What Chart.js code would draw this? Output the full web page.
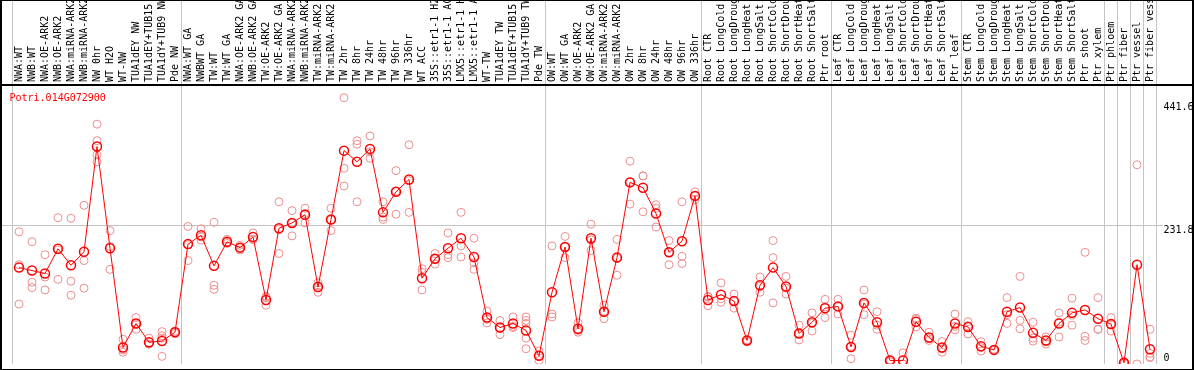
<!DOCTYPE html>
<html>
<head>
<meta charset="utf-8">
<script src="https://cdn.jsdelivr.net/npm/chart.js@4.4.1/dist/chart.umd.min.js"></script>
<style>
  html, body { margin: 0; padding: 0; background: #fff; }
  #wrap { width: 1194px; height: 370px; }
</style>
</head>
<body>
<div id="wrap"><canvas id="chart" width="1194" height="370"></canvas></div>
<script>
// Gene shown in the plot
const geneName = 'Potri.014G072900';

// Sample names (one column each)
const samples = [
  'NWA:WT', 'NWB:WT', 'NWA:OE-ARK2', 'NWB:OE-ARK2', 'NWA:miRNA-ARK2', 'NWB:miRNA-ARK2',
  'NW 0hr', 'WT H2O', 'WT-NW', 'TUA1dEY NW', 'TUA1dEY+TUB15', 'TUA1dY+TUB9 NW', 'Pde NW',
  'NWA:WT GA', 'NWBWT GA', 'TW:WT', 'TW:WT GA', 'NWA:OE-ARK2 GA', 'NWB:OE-ARK2 GA',
  'TW:OE-ARK2', 'TW:OE-ARK2 GA', 'NWA:miRNA-ARK2', 'NWB:miRNA-ARK2', 'TW:miRNA-ARK2',
  'TW:miRNA-ARK2', 'TW 2hr', 'TW 8hr', 'TW 24hr', 'TW 48hr', 'TW 96hr', 'TW 336hr',
  'WT ACC', '35S::etr1-1 H2O', '35S::etr1-1 ACC', 'LMX5::etr1-1 H2O', 'LMX5::etr1-1 ACC',
  'WT-TW', 'TUA1dEY TW', 'TUA1dEY+TUB15', 'TUA1dY+TUB9 TW', 'Pde TW',
  'OW:WT', 'OW:WT GA', 'OW:OE-ARK2', 'OW:OE-ARK2 GA', 'OW:miRNA-ARK2', 'OW:miRNA-ARK2',
  'OW 2hr', 'OW 8hr', 'OW 24hr', 'OW 48hr', 'OW 96hr', 'OW 336hr',
  'Root CTR', 'Root LongCold', 'Root LongDrought', 'Root LongHeat', 'Root LongSalt',
  'Root ShortCold', 'Root ShortDrought', 'Root ShortHeat', 'Root ShortSalt', 'Ptr root',
  'Leaf CTR', 'Leaf LongCold', 'Leaf LongDrought', 'Leaf LongHeat', 'Leaf LongSalt',
  'Leaf ShortCold', 'Leaf ShortDrought', 'Leaf ShortHeat', 'Leaf ShortSalt', 'Ptr leaf',
  'Stem CTR', 'Stem LongCold', 'Stem LongDrought', 'Stem LongHeat', 'Stem LongSalt',
  'Stem ShortCold', 'Stem ShortDrought', 'Stem ShortHeat', 'Stem ShortSalt', 'Ptr shoot',
  'Ptr xylem', 'Ptr phloem', 'Ptr fiber', 'Ptr vessel', 'Ptr fiber vessel'
];

// Mean expression per sample (red line)
const means = [
  160, 155, 150, 192, 164, 187, 366, 193, 24, 65, 33, 35, 50,
  200, 215, 163, 204, 194, 212, 105, 227, 236, 250, 127, 242, 359, 340, 362, 254, 289, 310,
  142, 175, 193, 210, 178, 75, 58, 65, 53, 10,
  118, 195, 56, 210, 85, 177, 305, 296, 252, 186, 205, 282,
  105, 114, 103, 36, 130, 160, 128, 48, 67, 91,
  94, 25, 100, 67, 2, 2, 68, 41, 24, 65,
  59, 26, 20, 85, 92, 49, 36, 65, 83, 88, 73,
  64, -2, 165, 21
];

// Individual replicates (open pink circles); null where a sample has fewer replicates
const rep1 = [
  221, 204, 182, 245, 244, 266, 404, 223, 38, 75, 40, 51, 52,
  230, 226, 237, 208, 198, 219, 111, 272, 257, 261, 134, 261, 449, 376, 384, 272, 325, 369,
  158, 184, 219, 254, 210, 86, 70, 76, 76, 18,
  197, 213, 66, 234, 96, 208, 341, 316, 267, 206, 272, 289,
  111, 134, 115, 37, 144, 206, 145, 62, 83, 106,
  106, 45, 122, 85, 3, 15, 74, 50, 34, 81,
  68, 34, 21, 109, 145, 67, 42, 83, 108, 186, 109,
  75, -2, 335, 55
];
const rep2 = [
  165, 135, 144, 190, 137, 172, 376, 196, 20, 64, 30, 44, 50,
  199, 212, 130, 203, 194, 208, 109, 225, 236, 252, 129, 241, 329, 370, 357, 246, 290, 308,
  152, 175, 182, 197, 168, 72, 57, 60, 70, 10,
  81, 195, 53, 207, 85, 176, 306, 316, 261, 186, 179, 282,
  110, 107, 103, 36, 128, 177, 125, 47, 65, 93,
  94, 26, 98, 62, 2, -4, 72, 39, 22, 60,
  61, 24, 20, 80, 70, 40, 34, 67, 79, 43, 55,
  63, -2, -4, 14
];
const rep3 = [
  98, 126, 122, 140, 113, 125, 352, 157, 16, 55, 30, 40, 48,
  172, 207, 123, 201, 190, 208, 96, 184, 214, 236, 118, 223, 299, 272, 346, 242, 251, 254,
  122, 166, 177, 178, 157, 66, 46, 58, 65, 2,
  76, 177, 50, 189, 73, 147, 268, 255, 229, 165, 167, 276,
  95, 101, 91, 34, 118, 100, 115, 37, 52, 75,
  81, 5, 80, 55, 0, -4, 59, 36, 16, 54,
  47, 18, 19, 65, 56, 35, 30, 42, 62, 36, 55,
  52, -3, null, 7
];
const rep4 = [
  null, null, null, null, null, null, 340, null, null, null, null, 9, null,
  null, null, null, null, null, null, null, null, null, null, null, null, null, null, null, null, null, null,
  null, null, null, null, null, null, null, null, 40, null,
  null, null, null, null, null, null, null, null, null, null, null, null,
  null, null, null, null, null, null, null, null, null, null,
  null, null, null, null, null, null, null, null, null, null,
  null, null, null, null, null, null, null, null, null, null, null,
  null, null, null, 8
];
const rep5 = samples.map((s, i) => (i === 39 ? 22 : null));

// Columns where a new group of samples begins (vertical separators)
const groupStarts = [0, 13, 41, 53, 63, 73, 84, 85, 86, 87];

// Value axis
const yMin = -4;
const yMax = 469;
const yTicks = [0, 231.8, 441.6];
const yTickLabels = ['0', '231.8', '441.6'];

const gridGray = '#c4c4c4';
const monoFont = '"DejaVu Sans Mono", "Liberation Mono", monospace';

function repDataset(values) {
  return {
    data: values,
    showLine: false,
    pointStyle: 'circle',
    pointRadius: 4,
    pointHoverRadius: 4,
    pointBorderWidth: 1,
    pointBorderColor: '#ee8e8e',
    pointBackgroundColor: 'rgba(0,0,0,0)'
  };
}

// Sample names, value labels, gene name and frame
const decorations = {
  id: 'decorations',
  afterDraw(chart) {
    const { ctx, chartArea } = chart;
    const x = chart.scales.x;
    const y = chart.scales.y;
    const w = chart.width;
    const h = chart.height;
    ctx.save();
    ctx.font = '10px ' + monoFont;
    ctx.fillStyle = '#000';
    ctx.textAlign = 'left';
    ctx.textBaseline = 'middle';
    samples.forEach((s, i) => {
      ctx.save();
      ctx.translate(x.getPixelForTick(i), chartArea.top - 4);
      ctx.rotate(-Math.PI / 2);
      ctx.fillText(s, 0, 0);
      ctx.restore();
    });

    // value labels sit just below their level, the lowest one just above it
    yTicks.forEach((v, i) => {
      const py = y.getPixelForValue(v);
      ctx.textBaseline = i === 0 ? 'alphabetic' : 'top';
      ctx.fillText(yTickLabels[i], chartArea.right + 7, i === 0 ? py - 1 : py);
    });

    ctx.fillStyle = '#ff0000';
    ctx.textBaseline = 'alphabetic';
    ctx.fillText(geneName, chartArea.left - 3, chartArea.top + 15);

    ctx.fillStyle = '#000';
    ctx.fillRect(0, chartArea.top - 2, w, 2);
    ctx.fillRect(0, 0, w, 1);
    ctx.fillRect(0, h - 1, w, 1);
    ctx.fillRect(0, 0, 2, h);
    ctx.fillRect(w - 2, 0, 2, h);
    ctx.restore();
  }
};

new Chart(document.getElementById('chart'), {
  type: 'line',
  data: {
    labels: samples,
    datasets: [
      {
        data: means,
        borderColor: '#ff0000',
        borderWidth: 1,
        tension: 0,
        pointStyle: 'circle',
        pointRadius: 4.5,
        pointHoverRadius: 4.5,
        pointBorderWidth: 1.5,
        pointBorderColor: '#ff0000',
        pointBackgroundColor: 'rgba(0,0,0,0)'
      },
      repDataset(rep1),
      repDataset(rep2),
      repDataset(rep3),
      repDataset(rep4),
      repDataset(rep5)
    ]
  },
  options: {
    responsive: false,
    animation: false,
    devicePixelRatio: 1,
    layout: { padding: { left: 0, right: 0, top: 0, bottom: 1 } },
    plugins: {
      legend: { display: false },
      tooltip: { enabled: false }
    },
    events: [],
    scales: {
      x: {
        position: 'top',
        offset: true,
        afterFit: (scale) => { scale.height = 86; },
        grid: {
          offset: true,
          drawTicks: true,
          tickLength: 86,
          color: (ctx) => (ctx.index === undefined || groupStarts.includes(ctx.index)) ? gridGray : 'rgba(0,0,0,0)'
        },
        border: { display: false },
        ticks: { display: false, autoSkip: false }
      },
      y: {
        position: 'right',
        min: yMin,
        max: yMax,
        afterFit: (scale) => { scale.width = 37.5; },
        afterBuildTicks: (scale) => { scale.ticks = yTicks.map(v => ({ value: v })); },
        grid: {
          drawTicks: true,
          tickLength: 6,
          color: (ctx) => (ctx.tick && ctx.tick.value === 231.8) ? gridGray : 'rgba(0,0,0,0)'
        },
        border: { display: false },
        ticks: { display: false }
      },
      yLeft: {
        position: 'left',
        min: yMin,
        max: yMax,
        afterFit: (scale) => { scale.width = 12.5; },
        afterBuildTicks: (scale) => { scale.ticks = [{ value: 231.8 }]; },
        grid: {
          drawOnChartArea: false,
          drawTicks: true,
          tickLength: 12.5,
          color: gridGray
        },
        border: { display: false },
        ticks: { display: false }
      }
    }
  },
  plugins: [decorations]
});
</script>
</body>
</html>
